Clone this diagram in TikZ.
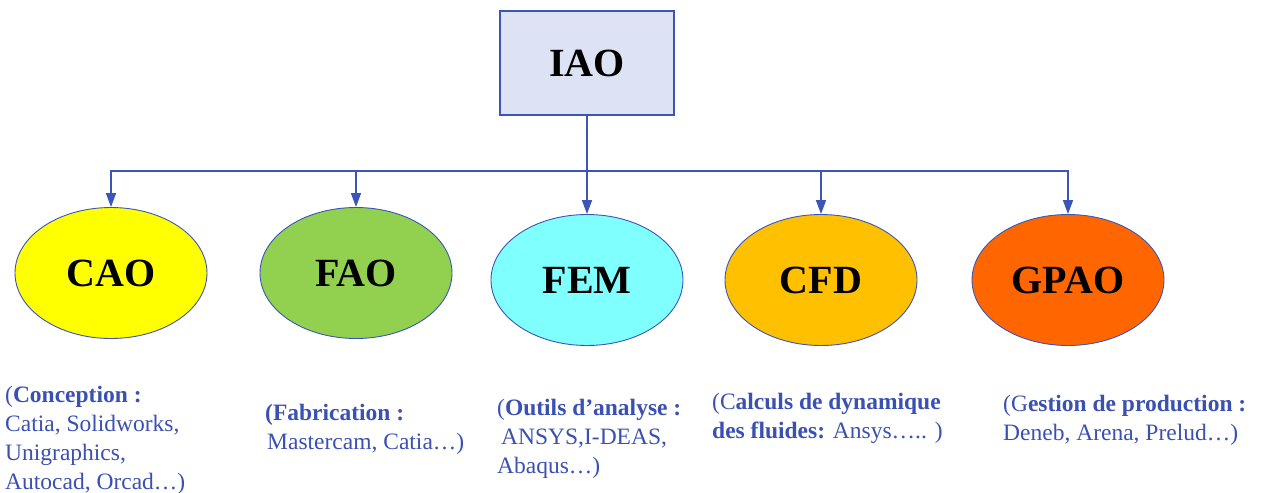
\documentclass[tikz,border=0pt]{standalone}
\usepackage{fontspec}
\setmainfont{Liberation Serif}
\usetikzlibrary{shapes.geometric,arrows.meta}
\definecolor{bluline}{HTML}{3B55B8}
\definecolor{txtblue}{HTML}{3A50B2}
\definecolor{iaofill}{HTML}{DDE3F5}
\definecolor{caofill}{HTML}{FFFF00}
\definecolor{faofill}{HTML}{92D050}
\definecolor{femfill}{HTML}{80FFFF}
\definecolor{cfdfill}{HTML}{FFC000}
\definecolor{gpaofill}{HTML}{FF6600}

\begin{document}
\begin{tikzpicture}
                [x=1pt, y=-1pt,
                every text node part/.style={align=left},
                bsty/.style={rectangle, draw=bluline, fill=iaofill, line width=1.4pt, minimum width=174pt, minimum height=104pt, font=\fontsize{40}{46}\selectfont\bfseries},
                esty/.style={ellipse, draw=bluline, line width=0.9pt, inner sep=0pt, minimum width=192pt, minimum height=131pt, font=\fontsize{40}{46}\selectfont\bfseries},
                tsty/.style={anchor=base west, inner sep=0pt, text=txtblue, font=\fontsize{23.5}{29}\selectfont},
                asty/.style={-{Triangle[width=10pt,length=14pt]}, line width=1.6pt, draw=bluline}]
                \useasboundingbox (0,0) rectangle (1262,493);
                % root box
                \node[bsty] (iao) at (587,63) {IAO};
                \coordinate (bus) at (587,171);
                % branches
                \node[esty, fill=caofill] (cao) at (111,273) {CAO};
                \node[esty, fill=faofill] (fao) at (356,273) {FAO};
                \node[esty, fill=femfill] (fem) at (587,280) {FEM};
                \node[esty, fill=cfdfill] (cfd) at (821,280) {CFD};
                \node[esty, fill=gpaofill] (gpao) at (1068,280) {GPAO};
                \draw[line width=1.6pt, bluline] (iao.south) -- (bus);
                \foreach \n in {cao,fao,fem,cfd,gpao}
                    \draw[asty] (bus) -| (\n.north);
                % tools (anchored on the last line)
                \node[tsty] (caotxt) at (5,489) {(\textbf{Conception :}\\Catia, Solidworks,\\Unigraphics,\\Autocad, Orcad…)};
                \node[tsty] (faotxt) at (265,449) {\textbf{(Fabrication :}\\\hspace{2pt}Mastercam, Catia…)};
                \node[tsty] (femtxt) at (497,473) {(\textbf{Outils d’analyse :}\\\hspace{4pt}ANSYS,I-DEAS,\\Abaqus…)};
                \node[tsty] (cfdtxt) at (712,438) {(C\textbf{alculs de dynamique}\\\textbf{des fluides:} Ansys….. )};
                \node[tsty] (gpaotxt) at (1003,440) {(G\textbf{estion de production :}\\Deneb, Arena, Prelud…)};
            \end{tikzpicture}
\end{document}
